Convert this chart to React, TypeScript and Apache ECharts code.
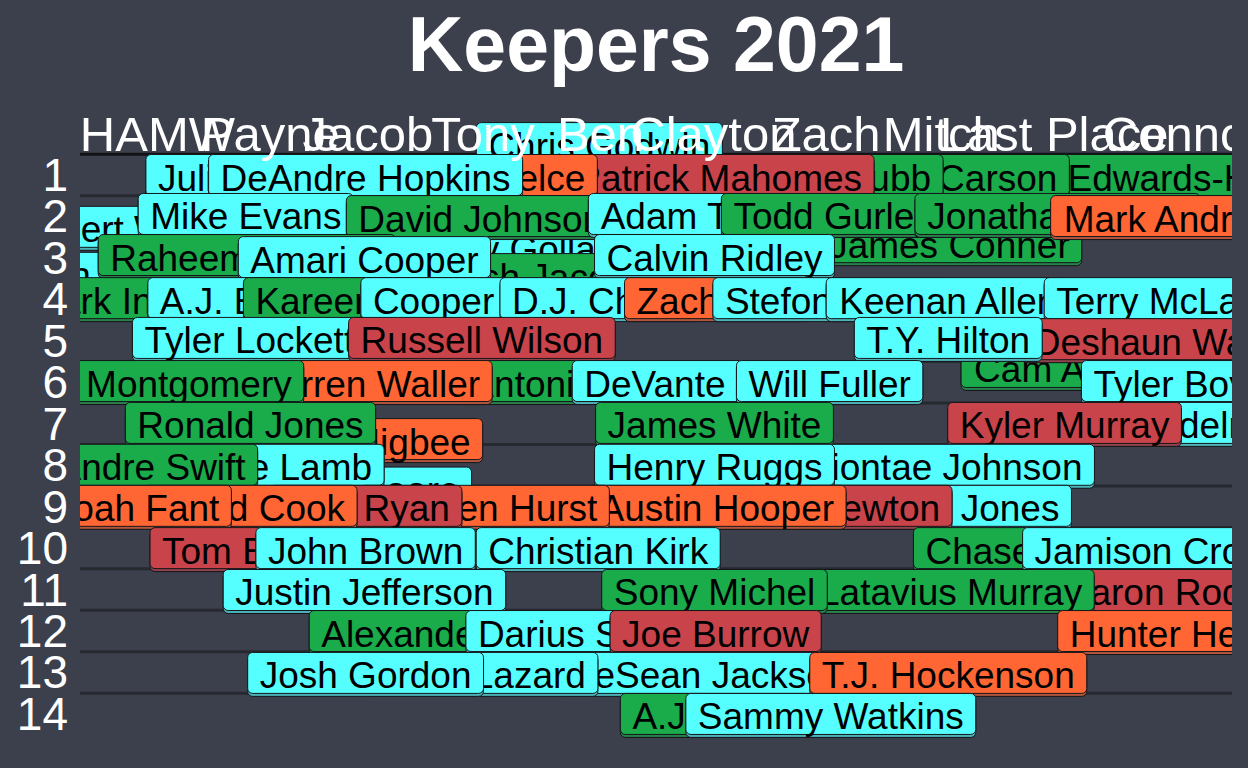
import React, { useEffect, useRef } from "react";
import * as echarts from "echarts";

const chartTitle = "Keepers 2021";
const teams = ["HAMW", "Payne", "Jacob", "Tony", "Ben", "Clayton", "Zach", "Mitch", "Last Place", "Connor"];
const teamX = [1.21, 2.18, 3.02, 4.01, 5.02, 5.99, 6.96, 7.95, 8.92, 10.03];
const roundTicks = [1, 2, 3, 4, 5, 6, 7, 8, 9, 10, 11, 12, 13, 14];
const dividerY = [0.5, 1.5, 2.5, 3.5, 4.5, 5.5, 6.5, 7.5, 8.5, 9.5, 10.5, 11.5, 12.5, 13.5];

// players in drawing order (first = bottom)
const players = [
  "Chris Godwin",
  "Clyde Edwards-Helaire", "Chris Carson", "Nick Chubb", "Patrick Mahomes", "Travis Kelce", "Julio Jones", "DeAndre Hopkins",
  "James Conner", "Allen Robinson", "Kenny Golladay", "Josh Jacobs",
  "Robert Woods", "Mike Evans", "David Johnson", "Adam Thielen", "Todd Gurley", "Jonathan Taylor", "Mark Andrews",
  "Raheem Mostert", "Amari Cooper", "Calvin Ridley",
  "Mark Ingram", "A.J. Brown", "Kareem Hunt", "Cooper Kupp", "D.J. Chark", "Zach Ertz", "Stefon Diggs", "Keenan Allen", "Terry McLaurin",
  "Cam Akers", "Tyler Lockett", "Russell Wilson", "Deshaun Watson", "T.Y. Hilton",
  "Antonio Gibson", "Darren Waller", "David Montgomery", "DeVante Parker", "Will Fuller", "Tyler Boyd",
  "Tyler Higbee", "Ronald Jones", "James White", "Julian Edelman", "Kyler Murray",
  "D.J. Moore", "CeeDee Lamb", "D'Andre Swift", "Diontae Johnson", "Henry Ruggs",
  "Marvin Jones", "Cam Newton", "Austin Hooper", "Hayden Hurst", "Matt Ryan", "Jared Cook", "Noah Fant",
  "Tom Brady", "John Brown", "Christian Kirk", "Chase Edmonds", "Jamison Crowder",
  "Aaron Rodgers", "Latavius Murray", "Sony Michel", "Justin Jefferson",
  "Alexander Mattison", "Darius Slayton", "Joe Burrow", "Hunter Henry",
  "DeSean Jackson", "Allen Lazard", "Josh Gordon", "T.J. Hockenson",
  "A.J. Dillon", "Sammy Watkins",
];
const positions = [
  "WR",
  "RB", "RB", "RB", "QB", "TE", "WR", "WR",
  "RB", "WR", "WR", "RB",
  "WR", "WR", "RB", "WR", "RB", "RB", "TE",
  "RB", "WR", "WR",
  "RB", "WR", "RB", "WR", "WR", "TE", "WR", "WR", "WR",
  "RB", "WR", "QB", "QB", "WR",
  "RB", "TE", "RB", "WR", "WR", "WR",
  "TE", "RB", "RB", "WR", "QB",
  "WR", "WR", "RB", "WR", "WR",
  "WR", "QB", "TE", "TE", "QB", "TE", "TE",
  "QB", "WR", "WR", "RB", "WR",
  "QB", "RB", "RB", "WR",
  "RB", "WR", "QB", "TE",
  "WR", "WR", "WR", "TE",
  "RB", "WR",
];
// team column (jittered)
const playerX = [
  5.01,
  9.76, 8.02, 7.04, 6.04, 4.02, 2.01, 3.0,
  8.02, 1.0, 4.37, 4.54,
  0.98, 1.97, 3.99, 6.0, 7.02, 8.95, 10.01,
  1.98, 2.99, 6.0,
  1.0, 2.0, 2.99, 4.0, 5.01, 6.01, 7.0, 8.01, 9.99,
  9.01, 2.0, 4.0, 9.96, 8.01,
  4.98, 3.01, 1.03, 6.0, 6.99, 10.01,
  3.01, 2.01, 6.0, 9.95, 9.01,
  3.03, 2.03, 1.01, 7.97, 6.0,
  8.02, 7.02, 6.02, 4.02, 3.0, 2.01, 1.0,
  2.01, 3.0, 5.0, 8.99, 9.99,
  10.09, 8.03, 6.0, 2.99,
  3.98, 5.0, 6.01, 10.0,
  5.94, 4.01, 3.0, 8.01,
  6.01, 7.0,
];
// keeper round (jittered)
const playerY = [
  0.23,
  1.0, 1.0, 1.0, 1.0, 1.0, 1.0, 1.0,
  2.62, 3.36, 2.72, 3.39,
  2.25, 1.94, 1.99, 1.94, 1.94, 1.94, 1.99,
  2.93, 2.98, 2.93,
  3.97, 3.97, 3.97, 3.97, 3.97, 3.97, 3.97, 3.97, 3.97,
  5.63, 4.93, 4.93, 4.96, 4.93,
  5.97, 5.97, 5.97, 5.97, 5.97, 5.97,
  7.37, 6.98, 6.98, 6.98, 6.98,
  8.54, 7.99, 7.99, 7.99, 7.99,
  8.98, 8.98, 8.98, 8.98, 8.98, 8.98, 8.98,
  10.0, 10.0, 10.0, 10.0, 10.0,
  11.01, 11.01, 11.01, 11.01,
  12.0, 12.0, 12.0, 12.0,
  13.01, 13.01, 13.01, 13.01,
  14.0, 14.0,
];

const posColors: Record<string, string> = {
  QB: "#c9444a",
  RB: "#1aab4b",
  WR: "#55ffff",
  TE: "#ff6633",
};
const BG = "#3c3f4c";
const FONT = "'Liberation Sans', Arial, Helvetica, sans-serif";
const LABEL_SIZE = 37;
const PAD_X = 12;
const BOX_H = 41;

function mix(c1: string, c2: string, t: number) {
  const p = (c: string) => [1, 3, 5].map((i) => parseInt(c.slice(i, i + 2), 16));
  const a = p(c1), b = p(c2);
  const r = a.map((v, i) => Math.round(v * (1 - t) + b[i] * t));
  return "#" + r.map((v) => v.toString(16).padStart(2, "0")).join("");
}

export default function App() {
  const ref = useRef<HTMLDivElement>(null);
  useEffect(() => {
    document.body.style.margin = "0";
    document.body.style.background = BG;
    if (!ref.current) return;
    const canvas = document.createElement("canvas");
    const ctx = canvas.getContext("2d")!;
    ctx.font = `${LABEL_SIZE}px ${FONT}`;
    const widths = players.map((n) => ctx.measureText(n).width);

    const chart = echarts.init(ref.current, undefined, { renderer: "svg" });
    const xMin = 0.5443;
    const xMax = 10.4497;
    const option: any = {
      animation: false,
      backgroundColor: BG,
      grid: { left: 80, right: 16, top: 92.1, bottom: 12.6, containLabel: false, outerBoundsMode: "none" },
      xAxis: { type: "value", min: xMin, max: xMax, show: false },
      yAxis: {
        type: "value",
        inverse: true,
        min: -1,
        max: 15,
        interval: 1,
        axisLine: { show: false },
        axisTick: { show: false },
        splitLine: { show: false },
        axisLabel: {
          color: "#ffffff",
          fontSize: 46,
          fontFamily: FONT,
          margin: 12,
          formatter: (v: number) => (roundTicks.indexOf(v) >= 0 ? String(v) : ""),
        },
      },
      graphic: [
        {
          type: "text",
          x: 656,
          y: 44,
          z: 100,
          style: {
            text: chartTitle,
            fill: "#ffffff",
            fontSize: 77,
            fontWeight: "bold",
            fontFamily: FONT,
            align: "center",
            verticalAlign: "middle",
          },
        },
      ],
      series: [
        {
          type: "custom",
          name: "dividers",
          z: 1,
          clip: true,
          data: dividerY.map((v) => [xMin, v]),
          renderItem: (params: any, api: any) => {
            const cs = params.coordSys;
            const y = api.coord([xMin, api.value(1)])[1];
            return {
              type: "line",
              shape: { x1: cs.x, y1: y, x2: cs.x + cs.width, y2: y },
              style: { stroke: params.dataIndex === 0 ? "#111216" : "#272930", lineWidth: 3 },
            };
          },
        },
        {
          type: "custom",
          name: "keepers",
          z: 2,
          clip: true,
          data: players.map((_, i) => [playerX[i], playerY[i]]),
          renderItem: (params: any, api: any) => {
            const i = params.dataIndex;
            const [cx, cy] = api.coord([api.value(0), api.value(1)]);
            const w = widths[i] + 2 * PAD_X;
            const color = posColors[positions[i]];
            return {
              type: "group",
              children: [
                {
                  type: "rect",
                  shape: { x: cx - w / 2, y: cy - BOX_H / 2 + 3, width: w, height: BOX_H, r: 5 },
                  style: { fill: mix(color, BG, 0.4), stroke: "#15161a", lineWidth: 1 },
                },
                {
                  type: "rect",
                  shape: { x: cx - w / 2, y: cy - BOX_H / 2, width: w, height: BOX_H, r: 5 },
                  style: { fill: color, stroke: "#15161a", lineWidth: 1 },
                },
                {
                  type: "text",
                  x: cx,
                  y: cy + 3,
                  style: {
                    text: players[i],
                    fill: "#000000",
                    fontSize: LABEL_SIZE,
                    fontFamily: FONT,
                    align: "center",
                    verticalAlign: "middle",
                  },
                },
              ],
            };
          },
        },
        {
          type: "custom",
          name: "teams",
          z: 3,
          clip: true,
          data: teams.map((_, i) => [teamX[i], 0]),
          renderItem: (params: any, api: any) => {
            const i = params.dataIndex;
            const [cx, cy] = api.coord([api.value(0), api.value(1)]);
            return {
              type: "text",
              x: cx,
              y: cy,
              style: {
                text: teams[i],
                fill: "#ffffff",
                fontSize: 49,
                fontFamily: FONT,
                align: "center",
                verticalAlign: "middle",
              },
            };
          },
        },
      ],
    };
    chart.setOption(option);
    return () => chart.dispose();
  }, []);
  return <div ref={ref} style={{ width: 1248, height: 768, background: BG }} />;
}
